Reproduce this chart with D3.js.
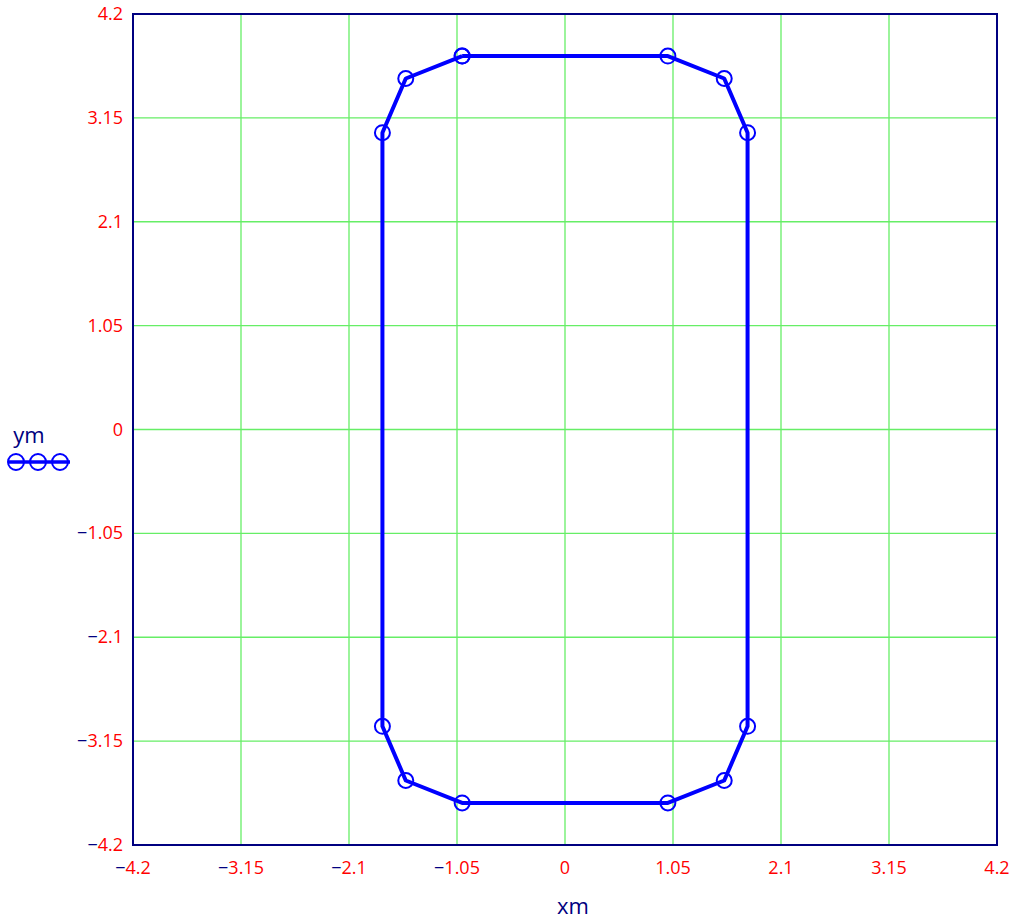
<!DOCTYPE html>
<html><head><meta charset="utf-8">
<script src="https://cdn.jsdelivr.net/npm/d3@7"></script>
<style>body{margin:0;background:#fff}svg{display:block}</style>
</head><body>
<script>
const ticks = [-4.2, -3.15, -2.1, -1.05, 0, 1.05, 2.1, 3.15, 4.2];
const xm = [-1, -1.548, -1.775, -1.775, -1.548, -1, 1, 1.548, 1.775, 1.775, 1.548, 1, -1];
const ym = [3.775, 3.548, 3, -3, -3.548, -3.775, -3.775, -3.548, -3, 3, 3.548, 3.775, 3.775];

const W = 1016, H = 920;
const L = 133, R = 997, T = 14, B = 845;
const svg = d3.select("body").append("svg").attr("width", W).attr("height", H);
const x = d3.scaleLinear().domain([-4.2, 4.2]).range([L, R]);
const y = d3.scaleLinear().domain([-4.2, 4.2]).range([B, T]);
const font = "'Open Sans', 'Liberation Sans', sans-serif";

// grid
const g = svg.append("g");
g.selectAll(".gx").data(ticks).enter().append("line")
  .attr("x1", d => x(d)).attr("x2", d => x(d)).attr("y1", T).attr("y2", B)
  .attr("stroke", "#66ee66").attr("stroke-width", 1.3);
g.selectAll(".gy").data(ticks).enter().append("line")
  .attr("y1", d => y(d)).attr("y2", d => y(d)).attr("x1", L).attr("x2", R)
  .attr("stroke", "#66ee66").attr("stroke-width", 1.3);

// frame
svg.append("rect").attr("x", L).attr("y", T).attr("width", R - L).attr("height", B - T)
  .attr("fill", "none").attr("stroke", "#000080").attr("stroke-width", 2);

function label(sel, v) {
  const s = String(Math.abs(v));
  if (v < 0) sel.append("tspan").attr("fill", "#000080").text("\u2212");
  sel.append("tspan").attr("fill", "#ff0000").text(s);
}
// y labels
svg.selectAll(".yl").data(ticks).enter().append("text")
  .attr("x", 123).attr("y", d => y(d) + 6).attr("text-anchor", "end")
  .attr("font-family", font).attr("font-size", 18)
  .each(function(d){ label(d3.select(this), d); });
// x labels
svg.selectAll(".xl").data(ticks).enter().append("text")
  .attr("x", d => x(d)).attr("y", 874).attr("text-anchor", "middle")
  .attr("font-family", font).attr("font-size", 18)
  .each(function(d){ label(d3.select(this), d); });

// axis titles
svg.append("text").attr("x", 573).attr("y", 914).attr("text-anchor", "middle")
  .attr("font-family", font).attr("font-size", 22).attr("fill", "#000080").text("xm");
svg.append("text").attr("x", 29).attr("y", 443).attr("text-anchor", "middle")
  .attr("font-family", font).attr("font-size", 22).attr("fill", "#000080").text("ym");

// legend symbol
svg.append("line").attr("x1", 8).attr("x2", 70).attr("y1", 462).attr("y2", 462)
  .attr("stroke", "#0000ff").attr("stroke-width", 3.5);
svg.selectAll(".lc").data([16, 38, 60]).enter().append("circle")
  .attr("cx", d => d).attr("cy", 462).attr("r", 8)
  .attr("fill", "none").attr("stroke", "#0000ff").attr("stroke-width", 2);

// data line
const pts = xm.map((v, i) => [v, ym[i]]);
svg.append("path").datum(pts)
  .attr("d", d3.line().x(d => x(d[0])).y(d => y(d[1])))
  .attr("fill", "none").attr("stroke", "#0000ff").attr("stroke-width", 4)
  .attr("stroke-linejoin", "round");
svg.selectAll(".pt").data(pts).enter().append("circle")
  .attr("cx", d => x(d[0])).attr("cy", d => y(d[1])).attr("r", 7.5)
  .attr("fill", "none").attr("stroke", "#0000ff").attr("stroke-width", 2);
</script>
</body></html>
